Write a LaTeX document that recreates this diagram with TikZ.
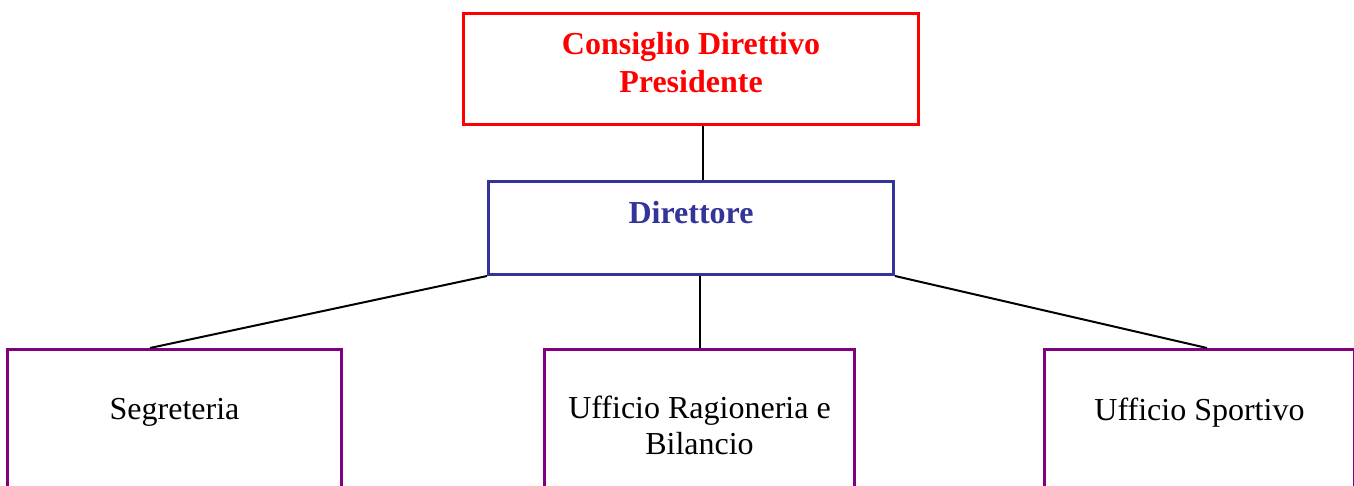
\documentclass[tikz,border=0pt]{standalone}
\usepackage{fontspec}
\setmainfont{Liberation Serif}
\definecolor{rosso}{HTML}{FF0000}
\definecolor{blu}{HTML}{333399}
\definecolor{viola}{HTML}{800080}

\tikzset{
  stile organigramma/.style={
      x=1pt, y=-1pt,
      casella/.style={rectangle, draw, inner sep=0pt},
      vertice/.style={casella, draw=rosso, line width=3.3pt, minimum width=454.7pt, minimum height=110.7pt},
      direzione/.style={casella, draw=blu, line width=2.7pt, minimum width=405.3pt, minimum height=93.3pt},
      ufficio/.style={casella, draw=viola, line width=2.7pt, minimum width=310.3pt, minimum height=160pt},
      testo/.style={anchor=north, inner sep=0pt, align=center, font={\fontsize{32}{36}\selectfont}},
      titolo/.style={testo, font={\fontsize{32}{38}\selectfont\bfseries}},
      linea/.style={black, line width=2pt},
    },
}

\begin{document}
\begin{tikzpicture}[stile organigramma]
    \useasboundingbox (0,0) rectangle (1354,486);
    \clip (0,0) rectangle (1354,486);

    \node[vertice, label={[titolo, text=rosso, yshift=-20.5pt]north:{Consiglio Direttivo\\Presidente}}] (cd) at (691,69) {};
    \node[direzione, below of=cd, node distance=159pt, label={[titolo, text=blu, yshift=-20.9pt]north:{Direttore}}] (dir) {};
    \node[ufficio, minimum width=334.3pt, label={[testo, yshift=-50pt]north:{Segreteria}}] (seg) at (174.5,429.35) {};
    \node[ufficio, right of=seg, node distance=525pt, label={[testo, yshift=-48pt]north:{Ufficio Ragioneria e\\Bilancio}}] (rag) {};
    \node[ufficio, right of=rag, node distance=500pt, label={[testo, yshift=-50pt]north:{Ufficio Sportivo}}] (spo) {};

    \draw[linea] ([xshift=12pt]cd.south) -- ([xshift=12pt]dir.north);
    \draw[linea] (dir.south west) -- ([xshift=-24.5pt]seg.north);
    \draw[linea] (dir.south -| rag.north) -- (rag.north);
    \draw[linea] (dir.south east) -- ([xshift=7.5pt]spo.north);
\end{tikzpicture}
\end{document}
